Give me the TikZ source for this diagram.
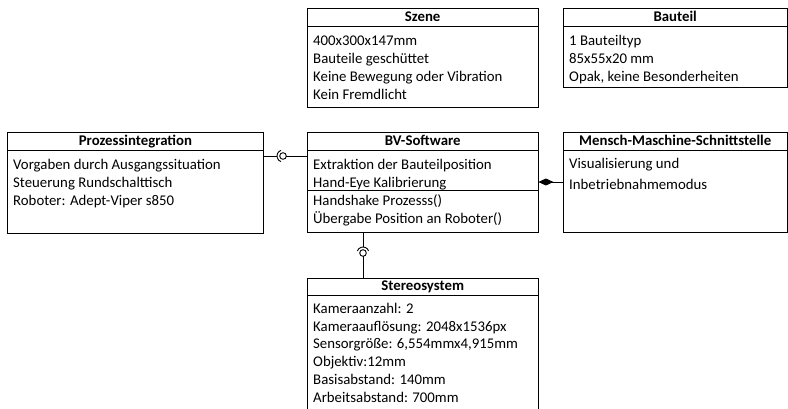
\documentclass[tikz,border=0pt]{standalone}
\usepackage{fontspec}
\setmainfont{Carlito}
\usetikzlibrary{arrows.meta,calc}
\begin{document}
\begin{tikzpicture}[x=1pt,y=-1pt,
  box/.style={draw, line width=0.9pt, rectangle, inner sep=0pt, anchor=north west},
  hdr/.style={font=\fontsize{14.8}{17.7}\selectfont\bfseries, anchor=base, inner sep=0pt},
  body/.style={font=\fontsize{14.8}{17.7}\selectfont, anchor=base west, align=left, inner sep=0pt},
  conn/.style={line width=0.9pt}]
\clip (0,0) rectangle (788,409);
\fill[white] (0,0) rectangle (788,409);

% Szene (4 lines: base of last line = 38 + 3*17.7)
\node[box, minimum width=230.5pt, minimum height=99pt] (szene) at (307,8) {};
\draw[conn] ([yshift=-18pt]szene.north west) -- ([yshift=-18pt]szene.north east);
\node[hdr] (szeneT) at ([yshift=-13.5pt]szene.north) {Szene};
\node[body] (szeneB) at ([xshift=6pt,yshift=-91.1pt]szene.north west)
  {400x300x147mm\\Bauteile geschüttet\\Keine Bewegung oder Vibration\\Kein Fremdlicht};

% Bauteil
\node[box, minimum width=223.5pt, minimum height=79pt] (bauteil) at (563,8) {};
\draw[conn] ([yshift=-18pt]bauteil.north west) -- ([yshift=-18pt]bauteil.north east);
\node[hdr] (bauteilT) at ([yshift=-13.5pt]bauteil.north) {Bauteil};
\node[body] (bauteilB) at ([xshift=6pt,yshift=-73.4pt]bauteil.north west)
  {1 Bauteiltyp\\85x55x20 mm\\Opak, keine Besonderheiten};

% Prozessintegration
\node[box, minimum width=256pt, minimum height=101pt] (pi) at (7,132) {};
\draw[conn] ([yshift=-18pt]pi.north west) -- ([yshift=-18pt]pi.north east);
\node[hdr] (piT) at ([yshift=-13.5pt]pi.north) {Prozessintegration};
\node[body] (piB) at ([xshift=6pt,yshift=-73.4pt]pi.north west)
  {Vorgaben durch Ausgangssituation\\Steuerung Rundschalttisch\\Roboter: Adept-Viper s850};

% BV-Software
\node[box, minimum width=230.5pt, minimum height=100pt] (bv) at (307,132) {};
\draw[conn] ([yshift=-18pt]bv.north west) -- ([yshift=-18pt]bv.north east);
\draw[conn] ([yshift=-58pt]bv.north west) -- ([yshift=-58pt]bv.north east);
\node[hdr] (bvT) at ([yshift=-13.5pt]bv.north) {BV-Software};
\node[body] (bvB) at ([xshift=6pt,yshift=-91.1pt]bv.north west)
  {Extraktion der Bauteilposition\\Hand-Eye Kalibrierung\\Handshake Prozesss()\\Übergabe Position an Roboter()};

% Mensch-Maschine-Schnittstelle
\node[box, minimum width=223.5pt, minimum height=100pt] (mms) at (563,132) {};
\draw[conn] ([yshift=-18pt]mms.north west) -- ([yshift=-18pt]mms.north east);
\node[hdr] (mmsT) at ([yshift=-13.5pt]mms.north) {Mensch-Maschine-Schnittstelle};
\node[body] (mmsB) at ([xshift=6pt,yshift=-58pt]mms.north west)
  {Visualisierung und\\[3.5pt]Inbetriebnahmemodus};

% Stereosystem
\node[box, minimum width=230.5pt, minimum height=160pt] (stereo) at (307,278) {};
\draw[conn] ([yshift=-17pt]stereo.north west) -- ([yshift=-17pt]stereo.north east);
\node[hdr] (stereoT) at ([yshift=-12.5pt]stereo.north) {Stereosystem};
\node[body] (stereoB) at ([xshift=6pt,yshift=-124pt]stereo.north west)
  {Kameraanzahl: 2\\Kameraauflösung: 2048x1536px\\Sensorgröße: 6,554mmx4,915mm\\Objektiv:12mm\\Basisabstand: 140mm\\Arbeitsabstand: 700mm};

% Ball-and-socket Prozessintegration -- BV-Software
\coordinate (s1) at (283,156);
\draw[conn] (s1 -| pi.east) -- ([xshift=-6pt]s1);
\draw[conn] ([shift={(110:6pt)}]s1) arc[start angle=110, end angle=250, radius=6pt];
\draw[conn] (s1) circle[radius=3.3pt];
\draw[conn] ([xshift=3.3pt]s1) -- (s1 -| bv.west);

% Ball-and-socket BV-Software -- Stereosystem
\coordinate (s2) at (363,253);
\draw[conn] (s2 |- bv.south) -- ([yshift=6pt]s2);
\draw[conn] ([shift={(20:6pt)}]s2) arc[start angle=20, end angle=160, radius=6pt];
\draw[conn] (s2) circle[radius=3.3pt];
\draw[conn] ([yshift=-3.3pt]s2) -- (s2 |- stereo.north);

% Composition MMS -> BV-Software
\coordinate (d1) at (550,182);
\draw[conn, -{Diamond[length=15pt,width=7pt]}] (d1 -| mms.west) -- (d1 -| bv.east);
\end{tikzpicture}
\end{document}
